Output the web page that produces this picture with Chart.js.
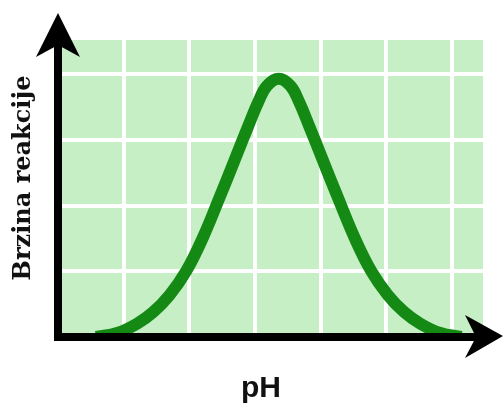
<!DOCTYPE html>
<html>
<head>
<meta charset="utf-8">
<script src="https://cdn.jsdelivr.net/npm/chart.js@4/dist/chart.umd.min.js"></script>
<style>
  html, body { margin: 0; padding: 0; background: #fff; }
  canvas { display: block; }
</style>
</head>
<body>
<canvas id="rateChart" width="504" height="403"></canvas>
<script>
// curve, one unit = one grid cell
const phValues = [0.58, 0.90, 1.20, 1.45, 1.70, 1.95, 2.20, 2.45, 2.70, 2.90, 3.05, 3.18, 3.36,
                  3.54, 3.67, 3.82, 4.02, 4.27, 4.52, 4.77, 5.02, 5.27, 5.52, 5.82, 6.14];
const rates = [0.00, 0.06, 0.20, 0.38, 0.64, 1.00, 1.50, 2.10, 2.72, 3.22, 3.58, 3.82, 3.93,
               3.82, 3.58, 3.22, 2.72, 2.10, 1.50, 1.00, 0.64, 0.38, 0.20, 0.06, 0.00];
const xTitle = 'pH';
const yTitle = 'Brzina reakcije';
const xMax = 6.47;
const yMax = 4.52;

const points = phValues.map((ph, i) => ({ x: ph, y: rates[i] }));

// light green panel behind the grid
const panelPlugin = {
    id: 'panel',
    beforeDraw(chart) {
        const { ctx, chartArea } = chart;
        ctx.save();
        ctx.fillStyle = 'rgb(198, 239, 198)';
        ctx.fillRect(chartArea.left, chartArea.top, chartArea.right - chartArea.left, chartArea.bottom - chartArea.top);
        ctx.restore();
    }
};

// black axes with arrow heads, plus the two titles
const axesPlugin = {
    id: 'arrowAxes',
    afterDatasetsDraw(chart) {
        const { ctx, chartArea, scales } = chart;
        const x0 = scales.x.getPixelForValue(0);
        const y0 = scales.y.getPixelForValue(0);
        const top = chartArea.top;
        const right = chartArea.right;
        ctx.save();
        ctx.fillStyle = '#000';

        ctx.fillRect(x0 - 4, top + 5, 8, y0 + 4 - (top + 5));
        ctx.fillRect(x0 - 4, y0 - 4, right - 7 - (x0 - 4), 8);

        ctx.beginPath();
        ctx.moveTo(x0, top - 27);
        ctx.lineTo(x0 + 22, top + 17);
        ctx.lineTo(x0, top + 5);
        ctx.lineTo(x0 - 22, top + 17);
        ctx.closePath();
        ctx.fill();

        ctx.beginPath();
        ctx.moveTo(right + 20, y0 - 1);
        ctx.lineTo(right - 18, y0 + 21);
        ctx.lineTo(right - 7, y0);
        ctx.lineTo(right - 18, y0 - 22);
        ctx.closePath();
        ctx.fill();

        ctx.fillStyle = '#111';
        ctx.font = 'bold 30px "Liberation Sans", Arial, sans-serif';
        ctx.textAlign = 'center';
        ctx.textBaseline = 'alphabetic';
        ctx.fillText(xTitle, 261, 397);

        ctx.translate(24, 178);
        ctx.rotate(-Math.PI / 2);
        ctx.font = 'bold 24px "DejaVu Serif", serif';
        ctx.textBaseline = 'middle';
        ctx.fillText(yTitle, 0, 0);
        ctx.restore();
    }
};

const ctx = document.getElementById('rateChart').getContext('2d');
const chart = new Chart(ctx, {
    type: 'scatter',
    data: {
        datasets: [{
            data: points,
            showLine: true,
            borderColor: 'rgb(20, 138, 20)',
            borderWidth: 12,
            pointRadius: 0,
            tension: 0.4,
            fill: false
        }]
    },
    options: {
        responsive: false,
        animation: false,
        devicePixelRatio: 1,
        layout: { padding: { left: 58, right: 21, top: 40, bottom: 66 } },
        scales: {
            x: {
                type: 'linear',
                min: 0,
                max: xMax,
                border: { display: false },
                grid: { color: '#fff', lineWidth: 4, drawTicks: false },
                ticks: { display: false, stepSize: 1, includeBounds: false }
            },
            y: {
                type: 'linear',
                min: 0,
                max: yMax,
                border: { display: false },
                grid: { color: '#fff', lineWidth: 4, drawTicks: false },
                ticks: { display: false, stepSize: 1, includeBounds: false }
            }
        },
        plugins: {
            legend: { display: false },
            tooltip: { enabled: false }
        }
    },
    plugins: [panelPlugin, axesPlugin]
});
</script>
</body>
</html>
